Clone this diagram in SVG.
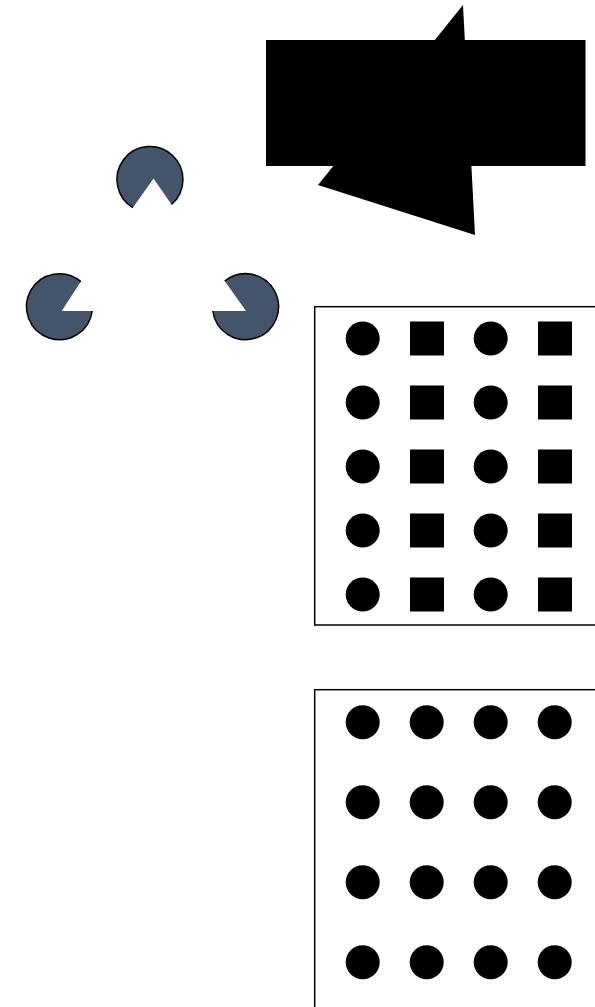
<svg xmlns="http://www.w3.org/2000/svg" width="595" height="1007" viewBox="0 0 595 1007">
<style>
.pac{fill:#44546A;stroke:none}
.rim{fill:none;stroke:#000;stroke-width:1.5}
.dot{fill:#000}
.box{fill:none;stroke:#000;stroke-width:1.5}
</style>
<rect width="595" height="1007" fill="#fff"/>
<g id="arrow-shape">
<rect x="266" y="40" width="319.5" height="126" fill="#000"/>
<polygon points="463,5 318,185 475,235" fill="#000"/>
</g>
<g id="kanizsa">
<g id="pac-top">
<path class="pac" d="M153.5,178.5 L132.85,207.7 A33,33 0 1 1 171.5,204.5 Z"/>
<path class="rim" d="M132.85,207.7 A33,33 0 1 1 171.5,204.5"/>
</g>
<g id="pac-left">
<path class="pac" d="M61.7,311 L80.9,281.6 A33,33 0 1 0 92.2,311 Z"/>
<path class="rim" d="M80.9,281.6 A33,33 0 1 0 92.2,311"/>
</g>
<g id="pac-right">
<path class="pac" d="M246,311 L224.7,281.1 A33,33 0 1 1 212.8,311 Z"/>
<path class="rim" d="M224.7,281.1 A33,33 0 1 1 212.8,311"/>
</g>
</g>
<g id="grid-mixed">
<rect class="box" x="314.7" y="306.7" width="300" height="318.3"/>
<g class="dot">
<circle cx="362.7" cy="338.5" r="17"/><rect x="410" y="321.5" width="34" height="34"/><circle cx="490.7" cy="338.5" r="17"/><rect x="538" y="321.5" width="34" height="34"/>
<circle cx="362.7" cy="402.5" r="17"/><rect x="410" y="385.5" width="34" height="34"/><circle cx="490.7" cy="402.5" r="17"/><rect x="538" y="385.5" width="34" height="34"/>
<circle cx="362.7" cy="466.5" r="17"/><rect x="410" y="449.5" width="34" height="34"/><circle cx="490.7" cy="466.5" r="17"/><rect x="538" y="449.5" width="34" height="34"/>
<circle cx="362.7" cy="530.5" r="17"/><rect x="410" y="513.5" width="34" height="34"/><circle cx="490.7" cy="530.5" r="17"/><rect x="538" y="513.5" width="34" height="34"/>
<circle cx="362.7" cy="594.5" r="17"/><rect x="410" y="577.5" width="34" height="34"/><circle cx="490.7" cy="594.5" r="17"/><rect x="538" y="577.5" width="34" height="34"/>
</g>
</g>
<g id="grid-dots">
<rect class="box" x="314.7" y="689.7" width="300" height="340"/>
<g class="dot">
<circle cx="362.7" cy="722.3" r="17"/><circle cx="426.7" cy="722.3" r="17"/><circle cx="490.7" cy="722.3" r="17"/><circle cx="554.7" cy="722.3" r="17"/>
<circle cx="362.7" cy="802.3" r="17"/><circle cx="426.7" cy="802.3" r="17"/><circle cx="490.7" cy="802.3" r="17"/><circle cx="554.7" cy="802.3" r="17"/>
<circle cx="362.7" cy="882.3" r="17"/><circle cx="426.7" cy="882.3" r="17"/><circle cx="490.7" cy="882.3" r="17"/><circle cx="554.7" cy="882.3" r="17"/>
<circle cx="362.7" cy="962.3" r="17"/><circle cx="426.7" cy="962.3" r="17"/><circle cx="490.7" cy="962.3" r="17"/><circle cx="554.7" cy="962.3" r="17"/>
</g>
</g>
</svg>
